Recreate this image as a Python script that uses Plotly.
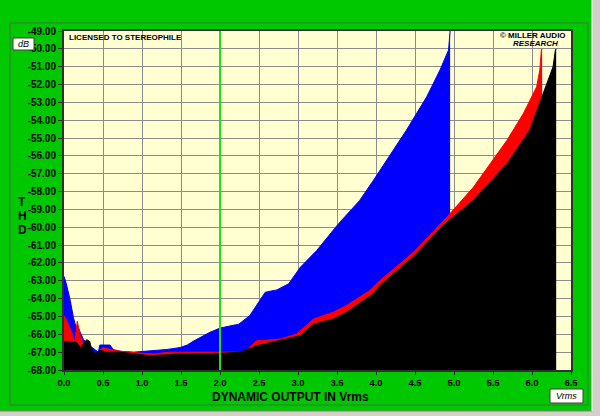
import plotly.graph_objects as go

# ---------------- data ----------------
FLOOR = -68.0

blue_x = [0.0, 0.03, 0.08, 0.12, 0.16, 0.17, 0.21, 0.25, 0.33, 0.44, 0.46, 0.59, 0.63, 0.72,
          0.89, 1.06, 1.32, 1.49, 1.58, 1.66, 1.74, 1.87, 2.0, 2.24, 2.38, 2.48, 2.58, 2.73,
          2.88, 3.03, 3.24, 3.52, 3.79, 3.97, 4.20, 4.39, 4.65, 4.82, 4.93, 4.95]
blue_y = [-62.75, -63.17, -64.1, -65.05, -65.7, -65.5, -65.9, -66.3, -66.64, -67.0, -66.6, -66.6,
          -66.85, -66.95, -67.0, -66.95, -66.85, -66.74, -66.6, -66.38, -66.2, -65.89, -65.65,
          -65.43, -64.96, -64.3, -63.64, -63.51, -63.17, -62.24, -61.30, -59.8, -58.5, -57.35,
          -55.85, -54.56, -52.69, -51.19, -50.07, -49.0]

red_x = [0.0, 0.03, 0.10, 0.14, 0.17, 0.21, 0.25, 0.28, 0.30, 0.33, 0.36, 0.40, 0.46, 0.50,
         0.59, 0.72, 0.97, 1.15, 1.35, 1.74, 2.26, 2.35, 2.47, 2.77, 2.98, 3.20, 3.45, 3.62,
         3.92, 4.05, 4.48, 4.91, 5.25, 5.68, 5.89, 6.06, 6.10, 6.12, 6.13]
red_y = [-64.96, -65.2, -65.9, -66.45, -65.27, -66.1, -66.6, -67.3, -66.8, -66.9, -67.3, -67.2,
         -66.9, -66.75, -66.85, -66.95, -67.05, -67.1, -67.0, -67.0, -67.0, -66.85, -66.36,
         -66.27, -65.99, -65.14, -64.77, -64.39, -63.55, -62.99, -61.40, -59.43, -57.75,
         -55.12, -53.62, -52.13, -51.19, -50.07, -50.0]

black_x = [0.0, 0.16, 0.21, 0.25, 0.29, 0.33, 0.35, 0.40, 0.46, 0.55, 0.72, 1.10, 1.50, 1.90,
           2.26, 2.47, 2.77, 3.03, 3.20, 3.45, 3.62, 3.96, 4.05, 4.48, 4.82, 4.91, 5.25, 5.68,
           5.97, 6.14, 6.27, 6.30, 6.31]
black_y = [-66.4, -66.45, -66.75, -66.55, -66.3, -66.4, -66.8, -67.1, -66.9, -67.0, -67.0,
           -67.2, -67.1, -67.1, -67.0, -66.64, -66.36, -66.08, -65.43, -65.14, -64.77, -63.75,
           -63.27, -61.65, -60.1, -59.71, -58.49, -56.43, -54.56, -52.5, -51.0, -50.07, -50.0]

x_ticks = [0.0, 0.5, 1.0, 1.5, 2.0, 2.5, 3.0, 3.5, 4.0, 4.5, 5.0, 5.5, 6.0, 6.5]
y_ticks = list(range(-68, -48))
marker_x = 2.0

series = [("blue", blue_x, blue_y, "#0000FF"),
          ("red", red_x, red_y, "#FF0000"),
          ("black", black_x, black_y, "#000000")]

# ---------------- layout geometry (pixels) ----------------
W, H = 600, 416
L, R, T, B = 64, 29, 31, 46
PW, PH = W - L - R, H - T - B


def px(x):
    return (x - L) / PW


def py(y):
    return (H - B - y) / PH


fig = go.Figure()
for name, xs, ys, col in series:
    fig.add_trace(go.Scatter(x=[xs[0], xs[-1]], y=[FLOOR, FLOOR], mode="lines",
                             line=dict(width=0, color=col), showlegend=False,
                             hoverinfo="skip"))
    fig.add_trace(go.Scatter(x=xs, y=ys, mode="lines", name=name, fill="tonexty",
                             fillcolor=col, line=dict(color=col, width=1),
                             showlegend=False))

GREEN = "#00C800"
font_y = dict(family="Liberation Sans, Arial, sans-serif", size=10, color="black",
              weight="bold")
font_x = dict(family="Liberation Sans, Arial, sans-serif", size=9.5, color="black",
              weight="bold")

fig.update_layout(
    width=W, height=H,
    margin=dict(l=L, r=R, t=T, b=B),
    paper_bgcolor=GREEN,
    plot_bgcolor="#FFFFD2",
    showlegend=False,
    xaxis=dict(range=[0, 6.5], tickvals=x_ticks, ticktext=[f"{v:.1f}" for v in x_ticks],
               showgrid=True, gridcolor="#8C8C8C", gridwidth=1, zeroline=False,
               ticks="outside", ticklen=3, tickcolor="#202020", tickfont=font_x,
               showline=True, linecolor="#303030", linewidth=2, mirror=True),
    yaxis=dict(range=[-68, -49], tickvals=y_ticks, ticktext=[f"{v:.2f}" for v in y_ticks],
               showgrid=True, gridcolor="#8C8C8C", gridwidth=1, zeroline=False,
               ticks="outside", ticklen=4, tickcolor="#202020", tickfont=font_y,
               showline=True, linecolor="#303030", linewidth=2, mirror=True),
)

shapes = []
# marker line at 2.0 Vrms
shapes.append(dict(type="line", xref="x", yref="paper", x0=marker_x, x1=marker_x, y0=0, y1=1,
                   line=dict(color="#22DD22", width=2), layer="above"))
# frame around the green panel
shapes.append(dict(type="rect", xref="paper", yref="paper", x0=px(10), x1=px(588),
                   y0=py(405), y1=py(23), line=dict(color="#3C783C", width=1)))
# window chrome strips
shapes.append(dict(type="rect", xref="paper", yref="paper", x0=px(592), x1=px(600),
                   y0=py(416), y1=py(0), fillcolor="#D4D0C8", line=dict(width=0)))
shapes.append(dict(type="rect", xref="paper", yref="paper", x0=px(0), x1=px(600),
                   y0=py(416), y1=py(411), fillcolor="#D4D0C8", line=dict(width=0)))
shapes.append(dict(type="line", xref="paper", yref="paper", x0=px(0), x1=px(592),
                   y0=py(411), y1=py(411), line=dict(color="#808080", width=1)))
shapes.append(dict(type="line", xref="paper", yref="paper", x0=px(592), x1=px(592),
                   y0=py(411), y1=py(0), line=dict(color="#FFFFFF", width=1)))
# unit boxes
shapes.append(dict(type="rect", xref="paper", yref="paper", x0=px(13), x1=px(34),
                   y0=py(50), y1=py(38), fillcolor="#FFFFF4", line=dict(color="#404040", width=1)))
shapes.append(dict(type="rect", xref="paper", yref="paper", x0=px(550), x1=px(583),
                   y0=py(403), y1=py(389), fillcolor="#FFFFF4", line=dict(color="#404040", width=1)))
fig.update_layout(shapes=shapes)

ann = []


def add_text(text, x, y, size, xanchor="center", italic=False, bold=True):
    ann.append(dict(text=text, xref="paper", yref="paper", x=px(x), y=py(y),
                    xanchor=xanchor, yanchor="middle", showarrow=False,
                    font=dict(family="Liberation Sans, Arial, sans-serif", size=size,
                              color="black", weight="bold" if bold else "normal",
                              style="italic" if italic else "normal")))


add_text("LICENSED TO STEREOPHILE", 67, 37, 8, xanchor="left")
add_text("© MILLER AUDIO", 568, 35.5, 8, xanchor="right")
add_text("RESEARCH", 560, 44, 8, xanchor="right", italic=True)
add_text("dB", 23.5, 44, 9, italic=True, bold=False)
add_text("Vrms", 566.5, 396, 9, italic=True, bold=False)
add_text("DYNAMIC OUTPUT IN Vrms", 290, 397, 12)
add_text("T", 22, 202, 12)
add_text("H", 22, 216, 12)
add_text("D", 22, 230, 12)
fig.update_layout(annotations=ann)

fig.write_html("out.html")
